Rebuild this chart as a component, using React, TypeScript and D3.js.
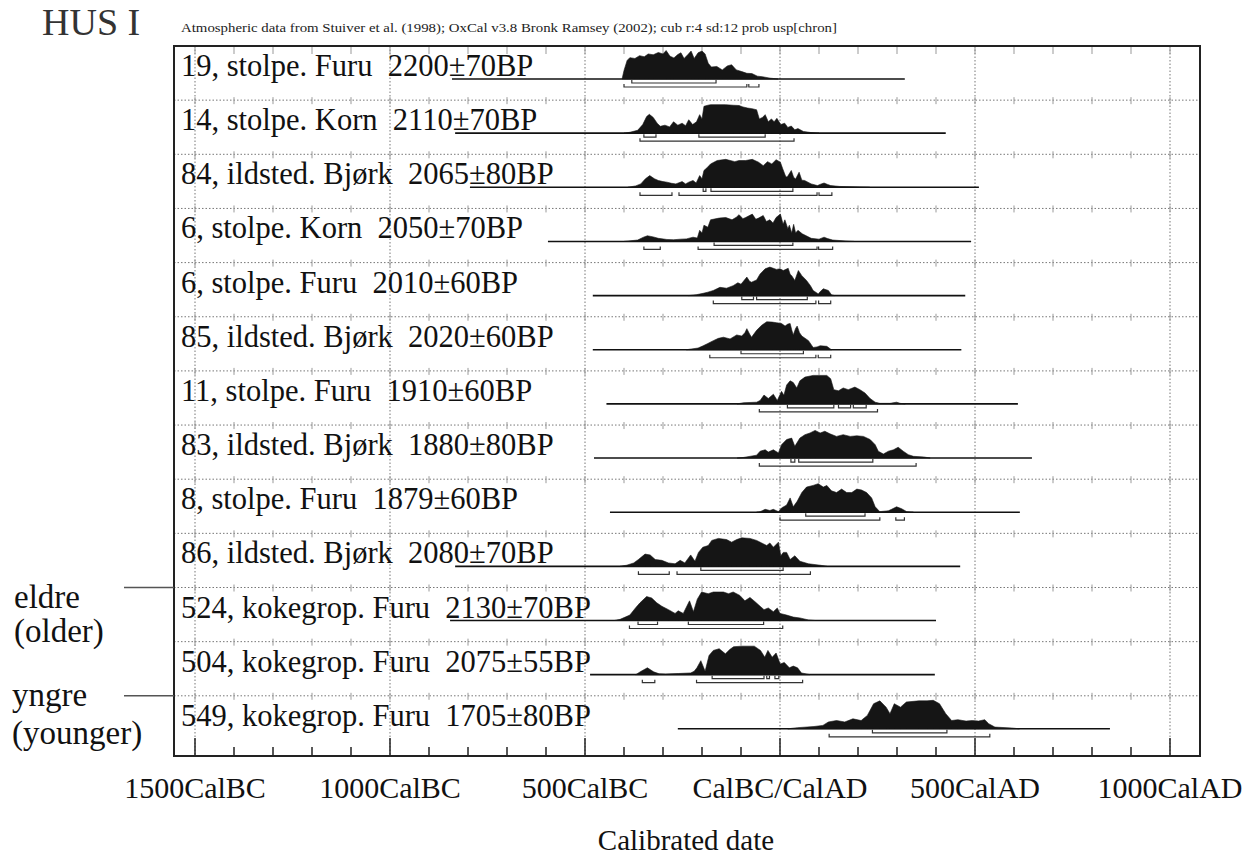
import * as React from "react";
import * as d3 from "d3";

// sample labels, top to bottom
const labels = [
  "19, stolpe. Furu  2200±70BP",
  "14, stolpe. Korn  2110±70BP",
  "84, ildsted. Bjørk  2065±80BP",
  "6, stolpe. Korn  2050±70BP",
  "6, stolpe. Furu  2010±60BP",
  "85, ildsted. Bjørk  2020±60BP",
  "11, stolpe. Furu  1910±60BP",
  "83, ildsted. Bjørk  1880±80BP",
  "8, stolpe. Furu  1879±60BP",
  "86, ildsted. Bjørk  2080±70BP",
  "524, kokegrop. Furu  2130±70BP",
  "504, kokegrop. Furu  2075±55BP",
  "549, kokegrop. Furu  1705±80BP",
];

// plotted range of each row (years, negative = BC)
const lineStart = [-841, -833, -795, -595, -480, -480, -445, -477, -436, -833, -846, -487, -262];
const lineEnd = [320, 425, 510, 490, 475, 465, 610, 646, 615, 462, 400, 397, 846];

// 68.2% ranges
const range68 = [
  [[-380, -164]],
  [[-349, -318], [-208, -38]],
  [[-197, -190], [-177, 33]],
  [[-169, 33]],
  [[-98, -68], [-60, 70]],
  [[-100, 60]],
  [[19, 138], [150, 181], [188, 221]],
  [[28, 38], [48, 238]],
  [[66, 218]],
  [[-203, 8]],
  [[-364, -314], [-235, -42]],
  [[-174, -41], [-34, -27], [-13, -3]],
  [[237, 428]],
];

// 95.4% ranges
const range95 = [
  [[-400, -85], [-80, -54]],
  [[-359, 36]],
  [[-359, -277], [-259, 95], [100, 133]],
  [[-349, -307], [-210, 95], [99, 135]],
  [[-171, 92], [99, 130]],
  [[-180, 92], [98, 130]],
  [[-53, 250]],
  [[-53, 349]],
  [[0, 256], [297, 319]],
  [[-363, -284], [-264, 78]],
  [[-386, 7]],
  [[-353, -321], [-214, 58]],
  [[126, 538]],
];

// probability curves, [year, relative height]
const dens19 = [[-405,0],[-400,0.3],[-392,0.65],[-385,0.75],[-372,0.72],[-360,0.82],[-348,0.78],[-338,0.88],[-325,0.85],[-312,0.93],[-300,0.88],[-292,1.0],[-282,0.8],[-272,0.74],[-262,0.86],[-254,0.92],[-246,0.72],[-236,0.86],[-228,0.98],[-220,0.72],[-210,0.92],[-200,0.98],[-192,0.88],[-184,0.55],[-176,0.42],[-162,0.44],[-148,0.32],[-135,0.46],[-124,0.5],[-112,0.32],[-98,0.26],[-85,0.2],[-72,0.19],[-58,0.1],[-45,0.08],[-25,0.03],[-5,0]];
const dens14 = [[-400,0],[-385,0.03],[-365,0.1],[-352,0.3],[-342,0.58],[-335,0.66],[-325,0.55],[-315,0.35],[-307,0.24],[-295,0.28],[-283,0.22],[-273,0.4],[-262,0.28],[-251,0.35],[-242,0.26],[-234,0.47],[-224,0.3],[-214,0.4],[-206,0.65],[-200,0.5],[-195,0.94],[-185,0.98],[-178,1.0],[-140,1.0],[-120,0.98],[-105,0.97],[-95,0.92],[-83,0.88],[-72,0.86],[-60,0.82],[-53,0.5],[-45,0.55],[-38,0.65],[-30,0.4],[-22,0.5],[-15,0.4],[-8,0.52],[2,0.3],[12,0.35],[20,0.2],[29,0.25],[38,0.12],[46,0.16],[60,0.06],[80,0.02],[100,0]];
const dens84 = [[-390,0],[-370,0.05],[-357,0.12],[-345,0.3],[-334,0.41],[-322,0.3],[-312,0.24],[-300,0.2],[-290,0.18],[-278,0.14],[-267,0.12],[-251,0.2],[-242,0.12],[-234,0.18],[-223,0.24],[-215,0.15],[-206,0.41],[-200,0.3],[-195,0.59],[-186,0.7],[-178,0.82],[-161,0.94],[-139,0.98],[-116,0.9],[-105,0.94],[-88,0.94],[-71,0.98],[-55,0.88],[-43,0.76],[-32,0.9],[-21,0.82],[-10,0.97],[1,0.88],[7,0.65],[14,0.4],[18,0.35],[29,0.59],[35,0.35],[40,0.29],[49,0.53],[56,0.25],[63,0.24],[80,0.12],[96,0.06],[106,0.12],[113,0.15],[122,0.1],[130,0.06],[153,0.03],[230,0]];
const dens6k = [[-400,0],[-365,0.05],[-350,0.15],[-340,0.2],[-325,0.16],[-312,0.11],[-290,0.07],[-273,0.06],[-255,0.08],[-240,0.09],[-223,0.15],[-212,0.12],[-206,0.39],[-200,0.3],[-195,0.57],[-185,0.5],[-178,0.76],[-156,0.82],[-139,0.84],[-123,0.76],[-112,0.85],[-105,0.94],[-95,0.8],[-88,0.84],[-71,0.96],[-62,0.78],[-55,0.82],[-43,0.91],[-35,0.7],[-26,0.76],[-18,0.65],[-10,0.84],[1,0.96],[8,0.6],[12.5,0.76],[20,0.45],[24,0.57],[30,0.3],[35,0.6],[40,0.3],[46,0.39],[57,0.27],[80,0.11],[100,0.08],[113,0.15],[122,0.1],[135,0.05],[175,0.01],[190,0]];
const dens6f = [[-235,0],[-215,0.03],[-197,0.08],[-185,0.12],[-171,0.18],[-154,0.29],[-137,0.26],[-120,0.35],[-108,0.45],[-100,0.4],[-85,0.65],[-78,0.5],[-73,0.47],[-60,0.55],[-51,0.76],[-38,0.94],[-26,1.0],[-9,0.92],[0,0.94],[8.5,0.88],[21,0.96],[26,0.75],[30,0.7],[38,0.53],[47,0.88],[56,0.7],[68,0.53],[78,0.35],[85,0.18],[98,0.06],[104,0.15],[111,0.24],[124,0.18],[132,0.03],[140,0]];
const dens85 = [[-240,0],[-231,0.02],[-210,0.06],[-197,0.14],[-185,0.22],[-171,0.32],[-158,0.4],[-145,0.44],[-128,0.38],[-111,0.52],[-98,0.48],[-90,0.6],[-85,0.74],[-78,0.55],[-73,0.44],[-60,0.68],[-47,0.86],[-34,0.98],[-20,0.97],[-9,0.95],[4,0.92],[13,0.83],[20,0.9],[26,0.92],[30,0.7],[34,0.52],[40,0.75],[44,0.83],[50,0.6],[56,0.48],[73,0.32],[85,0.08],[95,0.1],[103,0.14],[120,0.12],[132,0]];
const dens11 = [[-110,0],[-94,0.04],[-60,0.06],[-51,0.12],[-41,0.31],[-30,0.19],[-17,0.34],[-7,0.12],[4,0.44],[10,0.3],[17,0.66],[26,0.81],[34,0.75],[43,0.56],[51,0.81],[64,0.94],[85,1.0],[120,1.0],[130,0.88],[138,0.5],[150,0.46],[162,0.56],[175,0.5],[192,0.59],[205,0.5],[218,0.38],[231,0.19],[244,0.06],[256,0.02],[282,0.02],[299,0.06],[308,0.02],[321,0]];
const dens83 = [[-110,0],[-94,0.02],[-60,0.1],[-51,0.24],[-38,0.29],[-30,0.21],[-17,0.29],[-4,0.18],[4,0.47],[17,0.65],[30,0.7],[38,0.41],[51,0.7],[64,0.82],[77,0.88],[90,0.97],[103,0.88],[115,0.94],[128,0.85],[145,0.76],[162,0.82],[180,0.76],[197,0.78],[214,0.76],[231,0.65],[244,0.47],[252,0.24],[265,0.14],[278,0.24],[291,0.29],[303,0.38],[316,0.24],[329,0.12],[342,0.06],[368,0.04],[385,0]];
const dens8 = [[-60,0],[-51,0.02],[-38,0.1],[-26,0.06],[-17,0.1],[-4,0.02],[4,0.15],[17,0.25],[26,0.5],[34,0.19],[44,0.38],[56,0.69],[68,0.88],[85,0.94],[98,1.0],[111,0.88],[120,0.94],[132,0.75],[145,0.69],[158,0.81],[171,0.69],[184,0.69],[197,0.81],[209,0.78],[222,0.69],[235,0.5],[244,0.19],[256,0.02],[278,0.05],[286,0.1],[299,0.19],[312,0.12],[325,0.02],[342,0]];
const dens86 = [[-410,0],[-393,0.04],[-375,0.12],[-363,0.24],[-346,0.43],[-333,0.4],[-320,0.24],[-303,0.21],[-286,0.12],[-269,0.09],[-256,0.21],[-244,0.12],[-229,0.4],[-218,0.18],[-209,0.49],[-198,0.67],[-184,0.73],[-175,0.91],[-158,0.98],[-137,0.94],[-124,0.85],[-111,0.94],[-98,1.0],[-77,0.98],[-60,0.91],[-47,0.82],[-34,0.73],[-26,0.82],[-17,0.67],[-4,0.85],[2,0.37],[8.5,0.49],[17,0.49],[26,0.24],[38,0.37],[51,0.18],[73,0.09],[103,0.04],[120,0]];
const dens524 = [[-425,0],[-410,0.04],[-385,0.19],[-370,0.45],[-359,0.62],[-342,0.84],[-329,0.79],[-316,0.62],[-303,0.5],[-286,0.38],[-269,0.25],[-261,0.34],[-248,0.25],[-232,0.69],[-222,0.31],[-212,0.75],[-201,1.0],[-184,0.94],[-171,1.0],[-145,1.0],[-132,0.94],[-120,1.0],[-103,0.88],[-90,0.69],[-77,0.81],[-64,0.66],[-51,0.5],[-41,0.38],[-30,0.44],[-17,0.31],[-7,0.44],[0,0.25],[17,0.19],[34,0.12],[51,0.09],[73,0.02],[90,0]];
const dens504 = [[-370,0],[-356,0.12],[-340,0.24],[-324,0.1],[-310,0.03],[-293,0.02],[-260,0.04],[-229,0.06],[-220,0.12],[-213,0.24],[-203,0.49],[-192,0.12],[-182,0.67],[-171,0.85],[-156,0.91],[-140,0.73],[-129,0.88],[-119,0.98],[-97.5,1.0],[-66,1.0],[-50,0.85],[-39,0.61],[-31,0.85],[-20,0.61],[-10,0.76],[0.6,0.37],[11,0.43],[24,0.24],[34,0.3],[45,0.24],[55,0.06],[77,0]];
const dens549 = [[20,0],[45,0.04],[87,0.08],[110,0.12],[124,0.24],[145,0.29],[166,0.24],[187,0.35],[208,0.29],[224,0.47],[240,0.88],[256,0.98],[272,0.76],[282,0.53],[293,0.88],[309,0.76],[324,0.94],[356,0.98],[377,0.98],[393,1.0],[409,0.88],[425,0.53],[440,0.29],[456,0.32],[477,0.27],[493,0.29],[509,0.27],[525,0.32],[535,0.18],[551,0.06],[593,0.03],[614,0]];

const densities = [dens19, dens14, dens84, dens6k, dens6f, dens85, dens11, dens83, dens8, dens86, dens524, dens504, dens549];

const axisYears = [-1500, -1000, -500, 0, 500, 1000];
const axisLabels = ["1500CalBC", "1000CalBC", "500CalBC", "CalBC/CalAD", "500CalAD", "1000CalAD"];
const minorYears = d3.range(-1500, 1001, 100);

const serif = "'Liberation Serif', 'Times New Roman', serif";

export default function App() {
  const left = 174;
  const right = 1200;
  const top = 46;
  const bottom = 756;
  const rowH = 54.15;
  const peak = 28.5;

  const x = d3.scaleLinear().domain([-1500, 1000]).range([195, 1170]);
  const rowTop = (i: number) => top + rowH * i;
  const base = (i: number) => rowTop(i) + 33;

  const bracket = (r: number[], y: number) =>
    `M${x(r[0])},${y - 3}V${y}H${x(r[1])}V${y - 3}`;

  return (
    <svg
      width={1244}
      height={858}
      style={{ position: "absolute", left: 0, top: 0, background: "#fff" }}
      fontFamily={serif}
    >
      <text x={42} y={35} fontSize={38} fill="#333">HUS I</text>
      <text x={181} y={32} fontSize={12.5} fill="#222" textLength={656} lengthAdjust="spacingAndGlyphs">
        Atmospheric data from Stuiver et al. (1998); OxCal v3.8 Bronk Ramsey (2002); cub r:4 sd:12 prob usp[chron]
      </text>

      {/* vertical dotted grid */}
      {axisYears.map((yr) => (
        <line key={"v" + yr} x1={x(yr)} x2={x(yr)} y1={top} y2={bottom}
          stroke="#777" strokeWidth={1} strokeDasharray="1.5,2" />
      ))}

      {/* row separators with small ticks */}
      {d3.range(1, 13).map((i) => (
        <g key={"h" + i}>
          <line x1={left} x2={right} y1={rowTop(i)} y2={rowTop(i)}
            stroke="#777" strokeWidth={1} strokeDasharray="1.5,2" />
          {minorYears.map((yr) => (
            <line key={yr} x1={x(yr)} x2={x(yr)} y1={rowTop(i) - 3} y2={rowTop(i) + 4}
              stroke="#999" strokeWidth={1} />
          ))}
        </g>
      ))}
      {minorYears.map((yr) => (
        <line key={"t" + yr} x1={x(yr)} x2={x(yr)} y1={top} y2={top + 8} stroke="#999" strokeWidth={1} />
      ))}

      {/* rows */}
      {labels.map((lab, i) => {
        const b = base(i);
        const area = d3
          .area<number[]>()
          .x((d) => x(d[0]))
          .y0(b)
          .y1((d) => b - d[1] * peak)
          .curve(d3.curveLinear);
        return (
          <g key={lab}>
            <line x1={x(lineStart[i])} x2={x(lineEnd[i])} y1={b} y2={b} stroke="#111" strokeWidth={1.6} />
            <path d={area(densities[i]) || ""} fill="#151515" stroke="#151515" strokeWidth={0.6} />
            {range68[i].map((r, k) => (
              <path key={"a" + k} d={bracket(r, b + 4)} fill="none" stroke="#333" strokeWidth={1.2} />
            ))}
            {range95[i].map((r, k) => (
              <path key={"b" + k} d={bracket(r, b + 8)} fill="none" stroke="#333" strokeWidth={1.2} />
            ))}
            <text x={181} y={b - 3} fontSize={30.5} fill="#111" style={{ whiteSpace: "pre" }}>
              {lab}
            </text>
          </g>
        );
      })}

      {/* bottom axis ticks */}
      {minorYears.map((yr) => (
        <line key={"b" + yr} x1={x(yr)} x2={x(yr)} y1={bottom}
          y2={bottom - (yr % 500 === 0 ? 18 : 9)} stroke="#222" strokeWidth={1.5} />
      ))}

      {/* frame */}
      <rect x={left} y={top} width={right - left} height={bottom - top} fill="none" stroke="#222" strokeWidth={2} />

      {axisYears.map((yr, k) => (
        <text key={"l" + yr} x={x(yr)} y={798} fontSize={30} textAnchor="middle" fill="#111">
          {axisLabels[k]}
        </text>
      ))}
      <text x={686} y={850} fontSize={29} textAnchor="middle" fill="#111">Calibrated date</text>

      {/* older / younger markers */}
      <line x1={124} x2={left} y1={rowTop(10)} y2={rowTop(10)} stroke="#555" strokeWidth={1.5} />
      <line x1={124} x2={left} y1={rowTop(12)} y2={rowTop(12)} stroke="#555" strokeWidth={1.5} />
      <text x={14} y={608} fontSize={33} fill="#111">eldre</text>
      <text x={14} y={642} fontSize={33} fill="#111">(older)</text>
      <text x={12} y={706} fontSize={33} fill="#111">yngre</text>
      <text x={12} y={744} fontSize={33} fill="#111">(younger)</text>
    </svg>
  );
}
